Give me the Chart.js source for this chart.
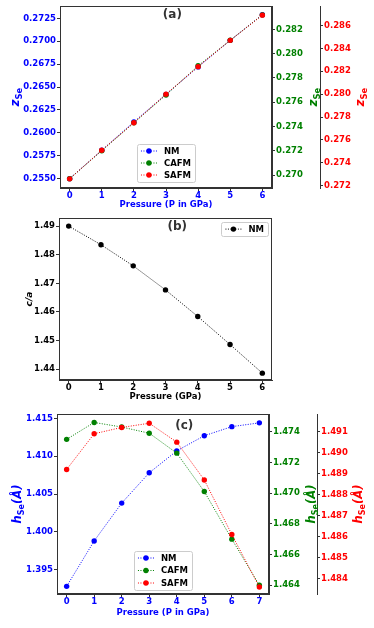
<!DOCTYPE html>
<html>
<head>
<meta charset="utf-8">
<script src="https://cdn.jsdelivr.net/npm/chart.js@4.4.0/dist/chart.umd.min.js"></script>
<style>
  html, body { margin: 0; padding: 0; background: #fff; }
  #wrap { position: relative; width: 374px; height: 628px; overflow: hidden; }
  canvas { position: absolute; left: 0; }
</style>
</head>
<body>
<div id="wrap">
  <canvas id="chartA" width="374" height="212" style="top:0px"></canvas>
  <canvas id="chartB" width="374" height="192" style="top:212px"></canvas>
  <canvas id="chartC" width="374" height="224" style="top:404px"></canvas>
</div>
<script>
// ---- data ----
const P_A = [0, 1, 2, 3, 4, 5, 6];
const A_NM   = [0.2550, 0.2581, 0.2612, 0.2642, 0.2672, 0.2701, 0.2729];
const A_CAFM = [0.2697, 0.2720, 0.2743, 0.2766, 0.2790, 0.2811, 0.2832];
const A_SAFM = [0.2726, 0.2751, 0.2775, 0.2800, 0.2824, 0.2847, 0.2869];

const P_B = [0, 1, 2, 3, 4, 5, 6];
const B_NM = [1.4900, 1.4835, 1.4761, 1.4677, 1.4584, 1.4486, 1.4386];

const P_C = [0, 1, 2, 3, 4, 5, 6, 7];
const C_NM   = [1.3928, 1.3988, 1.4038, 1.4078, 1.4107, 1.4127, 1.4139, 1.4144];
const C_CAFM = [1.4735, 1.4746, 1.4743, 1.4739, 1.4726, 1.4701, 1.4670, 1.4640];
const C_SAFM = [1.4892, 1.4909, 1.4912, 1.4914, 1.4905, 1.4887, 1.4861, 1.4836];

// tick labels
const X_TICKS_A = [0, 1, 2, 3, 4, 5, 6];
const X_TICKS_C = [0, 1, 2, 3, 4, 5, 6, 7];
const A_BLUE_TICKS  = [0.2550, 0.2575, 0.2600, 0.2625, 0.2650, 0.2675, 0.2700, 0.2725];
const A_GREEN_TICKS = [0.270, 0.272, 0.274, 0.276, 0.278, 0.280, 0.282];
const A_RED_TICKS   = [0.272, 0.274, 0.276, 0.278, 0.280, 0.282, 0.284, 0.286];
const B_TICKS       = [1.44, 1.45, 1.46, 1.47, 1.48, 1.49];
const C_BLUE_TICKS  = [1.395, 1.400, 1.405, 1.410, 1.415];
const C_GREEN_TICKS = [1.464, 1.466, 1.468, 1.470, 1.472, 1.474];
const C_RED_TICKS   = [1.484, 1.485, 1.486, 1.487, 1.488, 1.489, 1.490, 1.491];

const FONT = '"DejaVu Sans", sans-serif';
const BLUE = '#0000ff', GREEN = '#008000', RED = '#ff0000', BLACK = '#000000';
const SPINE = '#333333';

function pts(xs, ys) { return xs.map((x, i) => ({ x: x, y: ys[i] })); }

function series(label, xs, ys, color, axis, order) {
  return {
    label: label, data: pts(xs, ys), yAxisID: axis, order: order,
    borderColor: color, backgroundColor: color, borderWidth: 1, borderDash: [1, 1.5],
    pointRadius: 2.7, pointBorderWidth: 0, pointBackgroundColor: color, tension: 0
  };
}

function yScale(pos, min, max, ticks, dec, color, width) {
  return {
    type: 'linear', position: pos, min: min, max: max,
    border: { display: true, color: SPINE, width: 1 },
    grid: { drawOnChartArea: false, drawTicks: true, tickLength: 3, tickColor: SPINE },
    ticks: { color: color, padding: 1, font: { family: FONT, size: 8.5, weight: 'bold' },
             callback: v => Number(v).toFixed(dec) },
    afterBuildTicks: s => { s.ticks = ticks.map(v => ({ value: v })); },
    afterFit: s => { s.width = width; }
  };
}

function xScale(min, max, ticks, color, title, height) {
  return {
    type: 'linear', position: 'bottom', min: min, max: max,
    border: { display: true, color: SPINE, width: 1 },
    grid: { drawOnChartArea: false, drawTicks: true, tickLength: 3, tickColor: SPINE },
    ticks: { color: color, padding: 0, font: { family: FONT, size: 8.5, weight: 'bold' },
             callback: v => String(v) },
    title: { display: true, text: title, color: color, padding: { top: 0, bottom: 2 },
             font: { family: FONT, size: 8.5, weight: 'bold' } },
    afterBuildTicks: s => { s.ticks = ticks.map(v => ({ value: v })); },
    afterFit: s => { s.height = height; }
  };
}

// rotated axis title with a subscript, e.g. z_Se
function rotTitle(ctx, cx, cy, main, sub, tail, color, size) {
  ctx.save();
  ctx.translate(cx, cy);
  ctx.rotate(-Math.PI / 2);
  ctx.fillStyle = color;
  ctx.textBaseline = 'alphabetic';
  const fm = 'italic bold ' + size + 'px ' + FONT;
  const fs = 'bold ' + (size * 0.7) + 'px ' + FONT;
  ctx.font = fm; const w1 = ctx.measureText(main).width; const w3 = tail ? ctx.measureText(tail).width : 0;
  ctx.font = fs; const w2 = sub ? ctx.measureText(sub).width : 0;
  let x = -(w1 + w2 + w3) / 2;
  const y = size * 0.36;
  ctx.font = fm; ctx.fillText(main, x, y); x += w1;
  if (sub) { ctx.font = fs; ctx.fillText(sub, x, y + size * 0.22); x += w2; }
  if (tail) { ctx.font = fm; ctx.fillText(tail, x, y); }
  ctx.restore();
}

function drawLegend(ctx, chart, cfg) {
  const ca = chart.chartArea;
  const sets = chart.data.datasets;
  ctx.save();
  ctx.font = 'bold 8.5px ' + FONT;
  let tw = 0;
  sets.forEach(d => { tw = Math.max(tw, ctx.measureText(d.label).width); });
  const w = 4 + 16 + 7 + tw + 4;
  const h = 14 + (sets.length - 1) * cfg.row;
  let left, top;
  if (cfg.loc === 'lower center') {
    left = (ca.left + ca.right) / 2 - w / 2; top = ca.bottom - cfg.pad - h;
  } else {
    left = ca.right - cfg.pad - w; top = ca.top + cfg.pad;
  }
  ctx.fillStyle = 'rgba(255,255,255,0.85)';
  ctx.strokeStyle = '#cccccc';
  ctx.lineWidth = 1;
  ctx.beginPath();
  ctx.roundRect(Math.round(left) + 0.5, Math.round(top) + 0.5, Math.round(w), Math.round(h), 2);
  ctx.fill(); ctx.stroke();
  sets.forEach((d, i) => {
    const y = top + 7 + i * cfg.row;
    const x0 = left + 4;
    ctx.strokeStyle = d.borderColor; ctx.lineWidth = 1; ctx.setLineDash([1, 1.5]);
    ctx.beginPath(); ctx.moveTo(x0, y); ctx.lineTo(x0 + 16, y); ctx.stroke();
    ctx.setLineDash([]);
    ctx.fillStyle = d.borderColor;
    ctx.beginPath(); ctx.arc(x0 + 8, y, 2.7, 0, Math.PI * 2); ctx.fill();
    ctx.fillStyle = BLACK; ctx.textBaseline = 'middle'; ctx.textAlign = 'left';
    ctx.fillText(d.label, x0 + 23, y + 0.5);
  });
  ctx.restore();
}

function decor(cfg) {
  return {
    id: 'decor',
    afterDraw(chart) {
      const ctx = chart.ctx, ca = chart.chartArea;
      ctx.save();
      ctx.strokeStyle = SPINE; ctx.lineWidth = 1;
      ctx.strokeRect(Math.round(ca.left) + 0.5, Math.round(ca.top) + 0.5,
                     Math.round(ca.right - ca.left) - 1, Math.round(ca.bottom - ca.top) - 1);
      ctx.fillStyle = '#333333';
      ctx.font = 'bold 12px ' + FONT;
      ctx.textAlign = 'center'; ctx.textBaseline = 'middle';
      ctx.fillText(cfg.panel, ca.left + cfg.panelX * (ca.right - ca.left), ca.top + cfg.panelY);
      ctx.restore();
      const cy = (ca.top + ca.bottom) / 2;
      cfg.titles.forEach(t => {
        const s = chart.scales[t.axis];
        const cx = t.fromRight ? s.right - t.off : s.left + t.off;
        rotTitle(ctx, cx, cy, t.main, t.sub, t.tail, t.color, t.size);
      });
      drawLegend(ctx, chart, cfg.legend);
    }
  };
}

const common = { responsive: false, animation: false, events: [],
  plugins: { legend: { display: false }, tooltip: { enabled: false } } };

// ---- (a) ----
new Chart(document.getElementById('chartA'), {
  type: 'line',
  data: { datasets: [
    series('NM', P_A, A_NM, BLUE, 'yBlue', 2),
    series('CAFM', P_A, A_CAFM, GREEN, 'yGreen', 1),
    series('SAFM', P_A, A_SAFM, RED, 'yRed', 0)
  ] },
  options: Object.assign({}, common, {
    layout: { padding: { left: 0, right: 0, top: 6, bottom: 0 } },
    scales: {
      x: xScale(-0.3, 6.3, X_TICKS_A, BLUE, 'Pressure (P in GPa)', 24),
      yBlue: yScale('left', 0.25398, 0.27384, A_BLUE_TICKS, 4, BLUE, 60),
      yGreen: yScale('right', 0.26893, 0.28392, A_GREEN_TICKS, 3, GREEN, 48),
      yRed: yScale('right', 0.27180, 0.28769, A_RED_TICKS, 3, RED, 54)
    }
  }),
  plugins: [decor({
    panel: '(a)', panelX: 0.53, panelY: 9,
    legend: { loc: 'lower center', pad: 6, row: 12 },
    titles: [
      { axis: 'yBlue', off: 15, main: 'z', sub: 'Se', color: BLUE, size: 12 },
      { axis: 'yGreen', fromRight: true, off: 7, main: 'z', sub: 'Se', color: GREEN, size: 12 },
      { axis: 'yRed', fromRight: true, off: 14, main: 'z', sub: 'Se', color: RED, size: 12 }
    ]
  })]
});

// ---- (b) ----
new Chart(document.getElementById('chartB'), {
  type: 'line',
  data: { datasets: [ series('NM', P_B, B_NM, BLACK, 'y', 0) ] },
  options: Object.assign({}, common, {
    layout: { padding: { left: 0, right: 102, top: 5, bottom: 0 } },
    scales: {
      x: xScale(-0.3, 6.3, X_TICKS_A, BLACK, 'Pressure (GPa)', 24),
      y: yScale('left', 1.4362, 1.4928, B_TICKS, 2, BLACK, 59)
    }
  }),
  plugins: [decor({
    panel: '(b)', panelX: 0.555, panelY: 9,
    legend: { loc: 'upper right', pad: 4, row: 12 },
    titles: [ { axis: 'y', off: 29, main: 'c/a', sub: '', color: BLACK, size: 9 } ]
  })]
});

// ---- (c) ----
new Chart(document.getElementById('chartC'), {
  type: 'line',
  data: { datasets: [
    series('NM', P_C, C_NM, BLUE, 'yBlue', 2),
    series('CAFM', P_C, C_CAFM, GREEN, 'yGreen', 1),
    series('SAFM', P_C, C_SAFM, RED, 'yRed', 0)
  ] },
  options: Object.assign({}, common, {
    layout: { padding: { left: 0, right: 0, top: 10, bottom: 8 } },
    scales: {
      x: xScale(-0.35, 7.35, X_TICKS_C, BLUE, 'Pressure (P in GPa)', 26),
      yBlue: yScale('left', 1.39179, 1.41557, C_BLUE_TICKS, 3, BLUE, 57),
      yGreen: yScale('right', 1.46343, 1.47515, C_GREEN_TICKS, 3, GREEN, 48),
      yRed: yScale('right', 1.48327, 1.49184, C_RED_TICKS, 3, RED, 57)
    }
  }),
  plugins: [decor({
    panel: '(c)', panelX: 0.6, panelY: 12,
    legend: { loc: 'lower center', pad: 4, row: 12.5 },
    titles: [
      { axis: 'yBlue', off: 17, main: 'h', sub: 'Se', tail: '(Å)', color: BLUE, size: 11.5 },
      { axis: 'yGreen', fromRight: true, off: 6, main: 'h', sub: 'Se', tail: '(Å)', color: GREEN, size: 11.5 },
      { axis: 'yRed', fromRight: true, off: 16, main: 'h', sub: 'Se', tail: '(Å)', color: RED, size: 11.5 }
    ]
  })]
});
</script>
</body>
</html>
